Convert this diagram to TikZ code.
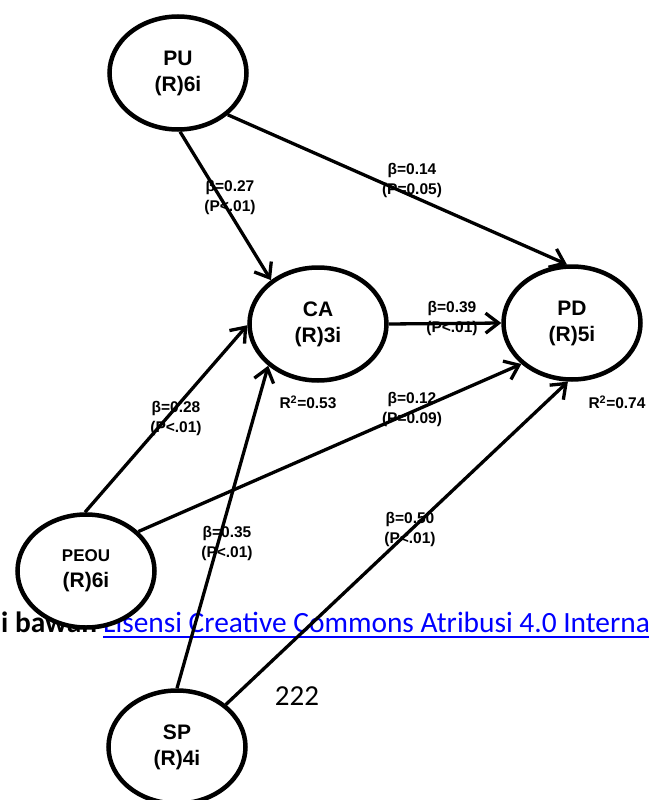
\documentclass[tikz,border=0pt]{standalone}
\usepackage{fontspec}
\setmainfont{Liberation Sans}
\newfontfamily\carl{Carlito}
\usetikzlibrary{arrows.meta,shapes.geometric}
\begin{document}
\begin{tikzpicture}[x=1pt,y=-1pt,
  lv/.style={ellipse,draw,line width=4.5pt,fill=white,minimum width=137pt,minimum height=113pt,inner sep=0pt,align=center,font=\fontsize{21}{26}\selectfont\bfseries},
  lbl/.style={align=center,font=\fontsize{15.5}{20}\selectfont\bfseries,inner sep=0pt},
  arr/.style={line width=3.3pt,-{Straight Barb[length=13pt,width=20pt]}},
  foot/.style={inner sep=0pt,anchor=base west,font=\carl\fontsize{29.4}{34}\selectfont}
]
\useasboundingbox (0,0) rectangle (648,800);
% footer texts
\node[foot,font=\carl\fontsize{29.4}{34}\selectfont\bfseries] (f1) at (1,632) {i bawah};
\node[foot,text=blue] (f2) at (103,632) {Lisensi Creative Commons Atribusi 4.0 Interna};
\draw[blue,line width=2pt] ([yshift=-5pt]f2.base west) -- ([yshift=-5pt]f2.base east);
\node[inner sep=0pt,font=\carl\fontsize{29}{34}\selectfont] (pg) at (297,696) {222};
% labels
\node[lbl] (l27) at (230,197) {β=0.27\\(P<.01)};
\node[lbl] (l14) at (412,180) {β=0.14\\(P=0.05)};
\node[lbl] (l39) at (452,318) {β=0.39\\(P<.01)};
\node[lbl] (l28) at (176,418) {β=0.28\\(P<.01)};
\node[lbl] (l12) at (412,409) {β=0.12\\(P=0.09)};
\node[lbl] (l35) at (227,543) {β=0.35\\(P<.01)};
\node[lbl] (l50) at (410,529) {β=0.50\\(P<.01)};
\node[lbl] (r53) at (308,402) {R\textsuperscript{2}=0.53};
\node[lbl] (r74) at (617,402) {R\textsuperscript{2}=0.74};
% latent variables
\node[lv] (PU) at (178,73) {PU\\(R)6i};
\node[lv] (CA) at (318,324) {CA\\(R)3i};
\node[lv] (PD) at (572,323) {PD\\(R)5i};
\node[lv] (PEOU) at (86,571) {{\fontsize{17}{20}\selectfont PEOU}\\(R)6i};
\node[lv] (SP) at (177,747) {SP\\(R)4i};
% paths
\draw[arr] (PU.-88) -- (CA.137);
\draw[arr] (PU.-40) -- (PD.95);
\draw[arr] (CA.east) -- (PD.west);
\draw[arr] (PEOU.91) -- (CA.181);
\draw[arr] (PEOU.37) -- (PD.219);
\draw[arr] (SP.90) -- (CA.220);
\draw[arr] (SP.41) -- (PD.266);
\end{tikzpicture}
\end{document}
